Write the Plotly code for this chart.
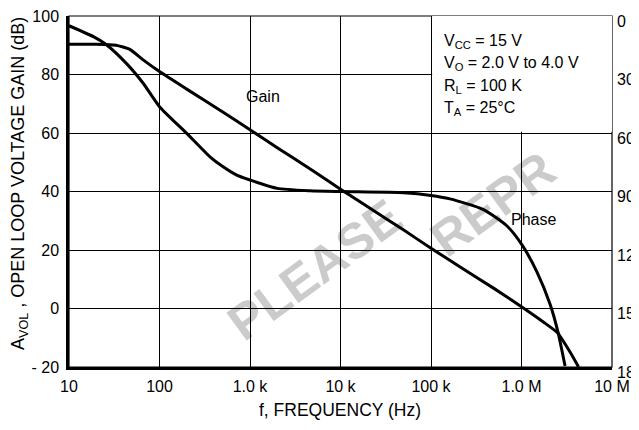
import plotly.graph_objects as go

# ---- data ----
freq_gain = [10, 20, 33, 47, 66, 100, 200, 500, 1e3, 2e3, 5e3, 1e4, 2e4, 5e4,
             1e5, 2e5, 5e5, 1e6, 1.74e6, 2.5e6, 3.44e6, 4.27e6]
gain_db = [90.3, 90.3, 90.0, 88.6, 85.0, 81.0, 75.0, 67.2, 61.1, 55.0, 47.0, 40.8,
           34.8, 26.8, 20.6, 14.6, 6.8, 0.6, -4.6, -8.3, -14.9, -20.0]

freq_phase = [10, 18.6, 25.5, 43, 66, 100, 200, 361, 500, 713, 1e3, 2e3, 4.6e3, 1e4, 5e4,
              1e5, 1.62e5, 3.76e5, 6.92e5, 1.013e6, 1.484e6, 2.065e6, 2.53e6, 3.03e6]
phase_deg = [5.0, 10.6, 14.5, 24.3, 34.5, 46.5, 60.2, 72.2, 77.2, 81.6, 84.1, 88.4, 89.6,
             90.0, 90.6, 92.0, 93.8, 99.2, 107.7, 117.4, 131.3, 147.7, 162.1, 179.5]

x_tickvals = [10, 100, 1e3, 1e4, 1e5, 1e6, 1e7]
x_ticktext = ["10", "100", "1.0 k", "10 k", "100 k", "1.0 M", "10 M"]
y_tickvals = [-20, 0, 20, 40, 60, 80, 100]
y_ticktext = ["- 20", "0", "20", "40", "60", "80", "100"]
p_tickvals = [0, 30, 60, 90, 120, 150, 180]
p_ticktext = ["0", "30", "60", "90", "120", "150", "180"]

conditions = ["V<sub>CC</sub> = 15 V", "V<sub>O</sub> = 2.0 V to 4.0 V",
              "R<sub>L</sub> = 100 K", "T<sub>A</sub> = 25°C"]
watermark = ["PLEASE", "REPR"]

FONT = "Liberation Sans, Arial, Helvetica, sans-serif"
W, H = 639, 430
OFF = 8                      # page body margin of the browser
L, R, T, B = 61, 35, 8, 71
PW, PH = W - L - R, H - T - B

def px(xs):  # screen pixel x -> paper
    return (xs - OFF - L) / PW

def py(ys):  # screen pixel y -> paper
    return (H - B - (ys - OFF)) / PH

fig = go.Figure()
fig.add_trace(go.Scatter(x=freq_gain, y=gain_db, mode="lines", name="Gain",
                         line=dict(color="black", width=3, shape="spline", smoothing=0.5),
                         showlegend=False))
fig.add_trace(go.Scatter(x=freq_phase, y=phase_deg, mode="lines", name="Phase", yaxis="y2",
                         line=dict(color="black", width=3, shape="spline", smoothing=0.6),
                         showlegend=False))

shapes = [
    # blank box behind the conditions text (no grid inside)
    dict(type="rect", xref="x", yref="y", x0=1.03e5, x1=1e7, y0=60.4, y1=100,
         fillcolor="white", line=dict(width=0), layer="between"),
    # thin frame (top / right)
    dict(type="rect", xref="paper", yref="paper", x0=0, x1=1, y0=0, y1=1,
         line=dict(color="black", width=1.2), layer="between"),
]
# watermark fragments (behind the curves)
for txt, (cx, cy) in zip(watermark, [(312, 266), (490, 200)]):
    shapes.append(dict(type="rect", xref="paper", yref="paper",
                       x0=px(cx) - 0.01, x1=px(cx) + 0.01, y0=py(cy) - 0.01, y1=py(cy) + 0.01,
                       line=dict(width=0), fillcolor="rgba(0,0,0,0)", layer="between",
                       label=dict(text=txt, textangle=-36, textposition="middle center",
                                  font=dict(family="Liberation Sans, Arial", size=50,
                                            color="#cbcbcb", weight="bold"))))

def ann(text, xs, ys, size=16, xanchor="center", angle=0):
    return dict(text=text, x=px(xs), y=py(ys), xref="paper", yref="paper", showarrow=False,
                xanchor=xanchor, yanchor="middle", textangle=angle,
                font=dict(family=FONT, size=size, color="black"))

annotations = [
    ann("Gain", 263, 96),
    ann("Phase", 533, 220),
    ann("f, FREQUENCY (Hz)", 340, 410, size=17.5),
    ann("A<sub>VOL</sub> , OPEN LOOP VOLTAGE GAIN (dB)", 19, 184, size=18, angle=-90),
]
for i, t in enumerate(conditions):
    annotations.append(ann(t, 442, 41 + 22.5 * i, xanchor="left"))

axis_common = dict(ticks="", zeroline=False, automargin=False, ticklabeloverflow="allow",
                   tickfont=dict(family=FONT, size=16, color="black"))

fig.update_layout(
    width=W, height=H,
    margin=dict(l=L, r=R, t=T, b=B, pad=0),
    paper_bgcolor="white", plot_bgcolor="white",
    font=dict(family=FONT, size=16, color="black"),
    xaxis=dict(type="log", range=[1, 7], tickvals=x_tickvals, ticktext=x_ticktext,
               showgrid=True, gridcolor="black", gridwidth=1,
               showline=True, linecolor="black", linewidth=2.5,
               ticklabelstandoff=3, **axis_common),
    yaxis=dict(range=[-20, 100], tickvals=y_tickvals, ticktext=y_ticktext,
               showgrid=True, gridcolor="black", gridwidth=1,
               showline=True, linecolor="black", linewidth=2.5,
               ticklabelstandoff=4, **axis_common),
    yaxis2=dict(range=[180, 0], tickvals=p_tickvals, ticktext=p_ticktext,
                overlaying="y", side="right", showgrid=False, showline=False,
                ticklabelstandoff=4, ticklabelshift=-5, **axis_common),
    shapes=shapes,
    annotations=annotations,
)

fig.write_html("out.html")
